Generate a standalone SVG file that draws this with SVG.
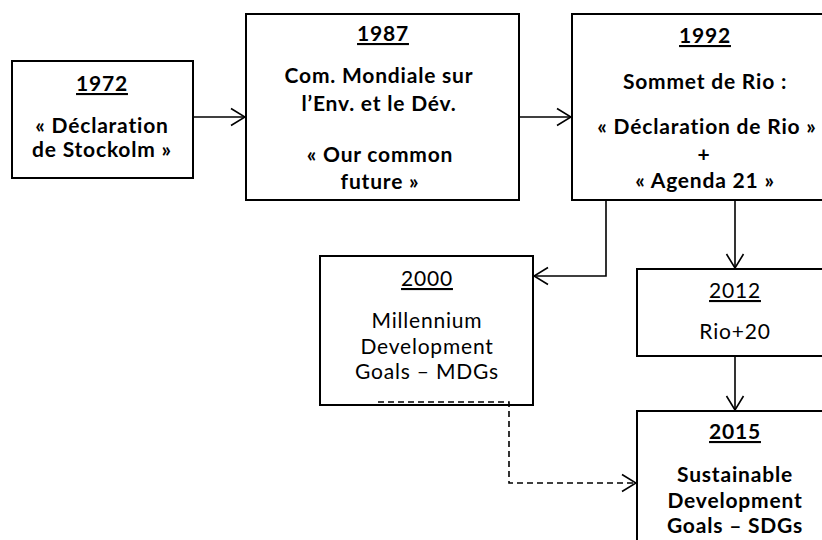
<svg xmlns="http://www.w3.org/2000/svg" width="822" height="540" viewBox="0 0 822 540">
<defs>
<style>
.box{fill:#fff;stroke:#000;stroke-width:2}
.t{font-family:Lato,"Liberation Sans",sans-serif;font-size:21px;letter-spacing:0.8px;fill:#000;text-anchor:middle}
.b{font-weight:bold}
.u{text-decoration:underline}
.c{fill:none;stroke:#000;stroke-width:1.6}
.d{stroke-dasharray:6 4}
</style>
<marker id="ah" viewBox="0 0 16 20" refX="15" refY="10" markerWidth="16" markerHeight="20" markerUnits="userSpaceOnUse" orient="auto">
<path d="M1 1.5 L15 10 L1 18.5" fill="none" stroke="#000" stroke-width="1.6"/>
</marker>
</defs>
<rect width="822" height="540" fill="#fff"/>
<g id="n1972">
<rect class="box" x="12" y="61" width="181" height="117"/>
<text class="t b u" x="102" y="91">1972</text>
<text class="t b" x="102" y="133">« Déclaration</text>
<text class="t b" x="102" y="157">de Stockolm »</text>
</g>
<g id="n1987">
<rect class="box" x="246" y="14" width="273" height="186"/>
<text class="t b u" x="383" y="41">1987</text>
<text class="t b" x="379" y="83">Com. Mondiale sur</text>
<text class="t b" x="379" y="111">l’Env. et le Dév.</text>
<text class="t b" x="380" y="162">« Our common</text>
<text class="t b" x="380" y="189">future »</text>
</g>
<g id="n1992">
<rect class="box" x="572" y="14" width="270" height="186"/>
<text class="t b u" x="705" y="43">1992</text>
<text class="t b" x="705" y="89">Sommet de Rio :</text>
<text class="t b" x="707" y="134">« Déclaration de Rio »</text>
<text class="t b" x="704" y="162">+</text>
<text class="t b" x="705" y="188">« Agenda 21 »</text>
</g>
<g id="n2000">
<rect class="box" x="320" y="256" width="213" height="149"/>
<text class="t u" x="427" y="286">2000</text>
<text class="t" x="427" y="328">Millennium</text>
<text class="t" x="427" y="354">Development</text>
<text class="t" x="427" y="379">Goals – MDGs</text>
</g>
<g id="n2012">
<rect class="box" x="637" y="269" width="200" height="87"/>
<text class="t u" x="735" y="298">2012</text>
<text class="t" x="735" y="339">Rio+20</text>
</g>
<g id="n2015">
<rect class="box" x="637" y="411" width="200" height="140"/>
<text class="t b u" x="735" y="439">2015</text>
<text class="t b" x="735" y="482">Sustainable</text>
<text class="t b" x="735" y="508">Development</text>
<text class="t b" x="735" y="533">Goals – SDGs</text>
</g>
<g id="connectors">
<path class="c" d="M193 117 H245" marker-end="url(#ah)"/>
<path class="c" d="M519 117 H571" marker-end="url(#ah)"/>
<path class="c" d="M606 201 V276 H534" marker-end="url(#ah)"/>
<path class="c" d="M735 201 V268" marker-end="url(#ah)"/>
<path class="c" d="M735 357 V410" marker-end="url(#ah)"/>
<path class="c d" d="M378 402 H509 V483 H636" marker-end="url(#ah)"/>
</g>
</svg>
